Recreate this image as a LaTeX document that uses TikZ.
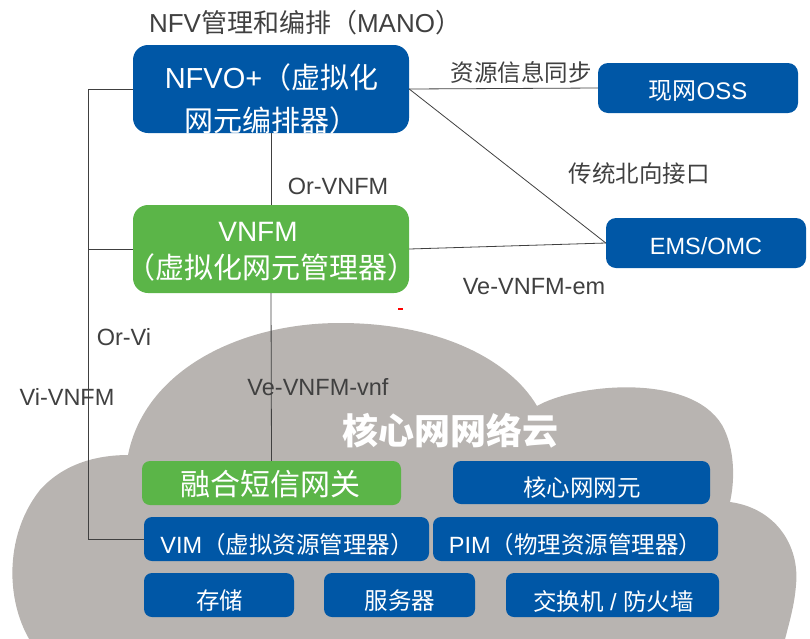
\documentclass[tikz,border=0pt]{standalone}
\usepackage{fontspec}
\setmainfont{Noto Sans CJK SC}
\newfontfamily\lat{Liberation Sans}
\definecolor{nfvblue}{RGB}{0,87,166}
\definecolor{nfvgreen}{RGB}{91,181,72}
\definecolor{cloudgray}{RGB}{184,180,177}
\definecolor{txtgray}{RGB}{64,64,64}
\definecolor{linegray}{RGB}{64,64,64}

\begin{document}
\begin{tikzpicture}
  [x=1pt, y=-1pt,
   every node/.style={inner sep=0pt},
   bluebox/.style={fill=nfvblue, rounded corners=8pt},
   greenbox/.style={fill=nfvgreen, rounded corners=8pt},
   intext/.style={text=white, font=\fontsize{23.5}{28}\selectfont},
   lbl/.style={text=txtgray, font=\fontsize{23.5}{28}\selectfont},
   latlbl/.style={text=txtgray, font=\lat\fontsize{23.5}{28}\selectfont},
   link/.style={draw=linegray, line width=0.8pt}]
  \path[use as bounding box, clip] (0,0) rectangle (810,638);

  \fill[cloudgray] (128,455)
    .. controls (145,370) and (240,323) .. (340,323)
    .. controls (440,323) and (510,360) .. (537,406)
    .. controls (575,384) and (690,372) .. (722,425)
    .. controls (735,448) and (735,480) .. (730,502)
    .. controls (775,508) and (800,545) .. (796,585)
    .. controls (794,610) and (788,625) .. (780,660)
    -- (45,660)
    .. controls (5,620) and (0,540) .. (40,490)
    .. controls (65,462) and (100,455) .. (128,455) -- cycle;

  \node[bluebox, rounded corners=15pt, minimum width=276pt, minimum height=88pt] (nfvo) at (271,89) {};
  \begin{scope}
    \clip[rounded corners=15pt] (nfvo.north west) rectangle (nfvo.south east);
    \node[intext, font=\fontsize{29}{34}\selectfont] (nfvo-t1) at (271.5,77.5) {{\lat NFVO+}（虚拟化};
    \node[intext, font=\fontsize{29}{34}\selectfont] (nfvo-t2) at (271.5,120.5) {网元编排器）};
  \end{scope}
  \node[greenbox, rounded corners=15pt, minimum width=276pt, minimum height=88pt] (vnfm) at (271,249) {};
  \node[intext, font=\lat\fontsize{28}{32}\selectfont] (vnfm-t1) at (258,232) {VNFM};
  \node[intext, font=\fontsize{29}{34}\selectfont] (vnfm-t2) at (271,267.5) {（虚拟化网元管理器）};

  \node[bluebox, rounded corners=10pt, minimum width=200pt, minimum height=50pt] (oss) at (698,88) {};
  \node[intext, font=\fontsize{24}{28}\selectfont] (oss-t) at (698,91) {现网{\lat OSS}};
  \node[bluebox, rounded corners=10pt, minimum width=200pt, minimum height=50pt] (ems) at (706,243) {};
  \node[intext, font=\lat\fontsize{23.5}{28}\selectfont] (ems-t) at (706,246) {EMS/OMC};

  \node[greenbox, minimum width=259pt, minimum height=44pt] (sms) at (271.5,483) {};
  \node[intext, font=\fontsize{30}{34}\selectfont] (sms-t) at (270.5,484) {融合短信网关};
  \node[bluebox, minimum width=257pt, minimum height=43pt] (core) at (581.5,482.5) {};
  \node[intext] (core-t) at (582,488) {核心网网元};
  \node[bluebox, minimum width=285pt, minimum height=44pt] (vim) at (286.5,539) {};
  \node[intext] (vim-t) at (287,545) {{\lat VIM}（虚拟资源管理器）};
  \node[bluebox, minimum width=285pt, minimum height=44pt] (pim) at (575.5,539) {};
  \node[intext] (pim-t) at (575.5,545) {{\lat PIM}（物理资源管理器）};
  \node[bluebox, minimum width=150pt, minimum height=44pt] (store) at (219,595) {};
  \node[intext] (store-t) at (219.5,601) {存储};
  \node[bluebox, minimum width=151pt, minimum height=44pt] (server) at (399.5,595) {};
  \node[intext] (server-t) at (400,601) {服务器};
  \node[bluebox, minimum width=213pt, minimum height=44pt] (switch) at (612.5,595) {};
  \node[intext] (switch-t) at (613.5,601) {交换机{\lat{} / }防火墙};

  \node[text=white, font=\bfseries\fontsize{36}{40}\selectfont] (cloud-t) at (450,431) {核心网网络云};

  \node[lbl, font=\fontsize{26}{30}\selectfont] (mano) at (305,23) {{\lat NFV}管理和编排（{\lat MANO}）};
  \node[lbl] (sync) at (521,72) {资源信息同步};
  \node[lbl] (north) at (639,174) {传统北向接口};
  \node[latlbl] (ve-em) at (534,287) {Ve-VNFM-em};
  \node[latlbl] (or-vnfm) at (338,186) {Or-VNFM};
  \node[latlbl] (or-vi) at (124,337) {Or-Vi};
  \node[latlbl] (vi-vnfm) at (67,397) {Vi-VNFM};
  \node[latlbl] (ve-vnf) at (318,387) {Ve-VNFM-vnf};

  \coordinate (bus) at (88,539);
  \draw[link] (nfvo.west) -| (bus) -- (vim.west);
  \draw[link] (vnfm.west) -- (vnfm.west -| bus);
  \draw[link] (nfvo.south) -- (vnfm.north);
  \draw[link] (vnfm.south) -- (sms.north);
  \draw[link] (nfvo.east) -- (oss.west);
  \draw[link] (nfvo.east) -- (ems.west);
  \draw[link] (vnfm.east) -- (ems.west);
  \draw[red, line width=1.5pt] (398,309) -- (403,309);
\end{tikzpicture}
\end{document}
